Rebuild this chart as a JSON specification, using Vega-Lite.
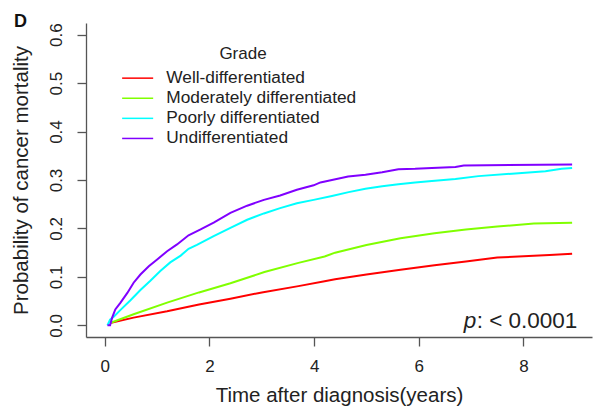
{
  "$schema": "https://vega.github.io/schema/vega-lite/v6.json",
  "width": 506,
  "height": 314,
  "autosize": "none",
  "padding": {"left": 86, "top": 23, "right": 4, "bottom": 72},
  "background": "white",
  "view": {"stroke": null},
  "config": {
    "font": "Liberation Sans",
    "axis": {"grid": false, "domainColor": "#555555", "domainWidth": 1.3, "tickColor": "#555555", "tickWidth": 1.3, "tickSize": 9, "labelFont": "Liberation Sans", "titleFont": "Liberation Sans", "labelColor": "#222222", "titleColor": "#222222", "labelFontSize": 17, "titleFontSize": 20.5, "titleFontWeight": "normal"},
    "legend": {"labelFont": "Liberation Sans", "titleFont": "Liberation Sans"}
  },
  "title": {"text": "D", "anchor": "start", "frame": "group", "dx": -72, "dy": 22, "offset": 0, "baseline": "alphabetic", "fontSize": 18, "fontWeight": "bold", "color": "#111111", "font": "Liberation Sans"},
  "datasets": {
    "curves": [
      {"grade": "Well-differentiated", "t": 0.1, "p": 0.005},
      {"grade": "Well-differentiated", "t": 0.55, "p": 0.016},
      {"grade": "Well-differentiated", "t": 1.19, "p": 0.029},
      {"grade": "Well-differentiated", "t": 1.8, "p": 0.043},
      {"grade": "Well-differentiated", "t": 2.4, "p": 0.055},
      {"grade": "Well-differentiated", "t": 3.0, "p": 0.068},
      {"grade": "Well-differentiated", "t": 3.7, "p": 0.081},
      {"grade": "Well-differentiated", "t": 4.2, "p": 0.091},
      {"grade": "Well-differentiated", "t": 4.4, "p": 0.095},
      {"grade": "Well-differentiated", "t": 5.0, "p": 0.105},
      {"grade": "Well-differentiated", "t": 5.65, "p": 0.115},
      {"grade": "Well-differentiated", "t": 6.3, "p": 0.124},
      {"grade": "Well-differentiated", "t": 6.9, "p": 0.132},
      {"grade": "Well-differentiated", "t": 7.5, "p": 0.14},
      {"grade": "Well-differentiated", "t": 8.1, "p": 0.143},
      {"grade": "Well-differentiated", "t": 8.5, "p": 0.145},
      {"grade": "Well-differentiated", "t": 8.93, "p": 0.148},
      {"grade": "Moderately differentiated", "t": 0.1, "p": 0.005},
      {"grade": "Moderately differentiated", "t": 0.55, "p": 0.023},
      {"grade": "Moderately differentiated", "t": 1.19, "p": 0.047},
      {"grade": "Moderately differentiated", "t": 1.8, "p": 0.068},
      {"grade": "Moderately differentiated", "t": 2.4, "p": 0.087},
      {"grade": "Moderately differentiated", "t": 3.05, "p": 0.11},
      {"grade": "Moderately differentiated", "t": 3.7, "p": 0.129},
      {"grade": "Moderately differentiated", "t": 4.2, "p": 0.142},
      {"grade": "Moderately differentiated", "t": 4.4, "p": 0.15},
      {"grade": "Moderately differentiated", "t": 5.0, "p": 0.166},
      {"grade": "Moderately differentiated", "t": 5.65, "p": 0.18},
      {"grade": "Moderately differentiated", "t": 6.3, "p": 0.19},
      {"grade": "Moderately differentiated", "t": 6.9, "p": 0.198},
      {"grade": "Moderately differentiated", "t": 7.5, "p": 0.204},
      {"grade": "Moderately differentiated", "t": 8.2, "p": 0.21},
      {"grade": "Moderately differentiated", "t": 8.93, "p": 0.212},
      {"grade": "Poorly differentiated", "t": 0.05, "p": 0.0},
      {"grade": "Poorly differentiated", "t": 0.1, "p": 0.012},
      {"grade": "Poorly differentiated", "t": 0.17, "p": 0.018},
      {"grade": "Poorly differentiated", "t": 0.3, "p": 0.032},
      {"grade": "Poorly differentiated", "t": 0.49, "p": 0.052},
      {"grade": "Poorly differentiated", "t": 0.68, "p": 0.073},
      {"grade": "Poorly differentiated", "t": 0.87, "p": 0.092},
      {"grade": "Poorly differentiated", "t": 1.06, "p": 0.112},
      {"grade": "Poorly differentiated", "t": 1.25, "p": 0.13},
      {"grade": "Poorly differentiated", "t": 1.45, "p": 0.144},
      {"grade": "Poorly differentiated", "t": 1.6, "p": 0.158},
      {"grade": "Poorly differentiated", "t": 1.76, "p": 0.166},
      {"grade": "Poorly differentiated", "t": 2.08, "p": 0.184},
      {"grade": "Poorly differentiated", "t": 2.4, "p": 0.201},
      {"grade": "Poorly differentiated", "t": 2.72, "p": 0.218},
      {"grade": "Poorly differentiated", "t": 3.04, "p": 0.231},
      {"grade": "Poorly differentiated", "t": 3.35, "p": 0.242},
      {"grade": "Poorly differentiated", "t": 3.67, "p": 0.252},
      {"grade": "Poorly differentiated", "t": 3.99, "p": 0.259},
      {"grade": "Poorly differentiated", "t": 4.34, "p": 0.267},
      {"grade": "Poorly differentiated", "t": 4.66, "p": 0.275},
      {"grade": "Poorly differentiated", "t": 4.98, "p": 0.282},
      {"grade": "Poorly differentiated", "t": 5.3, "p": 0.287},
      {"grade": "Poorly differentiated", "t": 5.61, "p": 0.291},
      {"grade": "Poorly differentiated", "t": 5.93, "p": 0.295},
      {"grade": "Poorly differentiated", "t": 6.25, "p": 0.298},
      {"grade": "Poorly differentiated", "t": 6.7, "p": 0.302},
      {"grade": "Poorly differentiated", "t": 7.14, "p": 0.308},
      {"grade": "Poorly differentiated", "t": 7.78, "p": 0.313},
      {"grade": "Poorly differentiated", "t": 8.42, "p": 0.318},
      {"grade": "Poorly differentiated", "t": 8.73, "p": 0.323},
      {"grade": "Poorly differentiated", "t": 8.93, "p": 0.325},
      {"grade": "Undifferentiated", "t": 0.05, "p": 0.0},
      {"grade": "Undifferentiated", "t": 0.1, "p": 0.0},
      {"grade": "Undifferentiated", "t": 0.14, "p": 0.016},
      {"grade": "Undifferentiated", "t": 0.2, "p": 0.033},
      {"grade": "Undifferentiated", "t": 0.3, "p": 0.047},
      {"grade": "Undifferentiated", "t": 0.43, "p": 0.067},
      {"grade": "Undifferentiated", "t": 0.55, "p": 0.088},
      {"grade": "Undifferentiated", "t": 0.68, "p": 0.105},
      {"grade": "Undifferentiated", "t": 0.84, "p": 0.122},
      {"grade": "Undifferentiated", "t": 1.0, "p": 0.136},
      {"grade": "Undifferentiated", "t": 1.19, "p": 0.153},
      {"grade": "Undifferentiated", "t": 1.38, "p": 0.167},
      {"grade": "Undifferentiated", "t": 1.6, "p": 0.186},
      {"grade": "Undifferentiated", "t": 1.83, "p": 0.198},
      {"grade": "Undifferentiated", "t": 2.08, "p": 0.212},
      {"grade": "Undifferentiated", "t": 2.4, "p": 0.232},
      {"grade": "Undifferentiated", "t": 2.72, "p": 0.247},
      {"grade": "Undifferentiated", "t": 3.04, "p": 0.259},
      {"grade": "Undifferentiated", "t": 3.35, "p": 0.268},
      {"grade": "Undifferentiated", "t": 3.67, "p": 0.28},
      {"grade": "Undifferentiated", "t": 3.99, "p": 0.289},
      {"grade": "Undifferentiated", "t": 4.12, "p": 0.295},
      {"grade": "Undifferentiated", "t": 4.34, "p": 0.3},
      {"grade": "Undifferentiated", "t": 4.65, "p": 0.307},
      {"grade": "Undifferentiated", "t": 4.98, "p": 0.311},
      {"grade": "Undifferentiated", "t": 5.3, "p": 0.316},
      {"grade": "Undifferentiated", "t": 5.61, "p": 0.322},
      {"grade": "Undifferentiated", "t": 5.93, "p": 0.323},
      {"grade": "Undifferentiated", "t": 6.25, "p": 0.325},
      {"grade": "Undifferentiated", "t": 6.7, "p": 0.327},
      {"grade": "Undifferentiated", "t": 6.86, "p": 0.33},
      {"grade": "Undifferentiated", "t": 8.93, "p": 0.332}
    ],
    "note": [{"t": 9.03, "p": -0.005, "label": ": < 0.0001", "pl": "p"}]
  },
  "layer": [
    {
      "data": {"name": "curves"},
      "mark": {"type": "line", "strokeWidth": 2, "interpolate": "linear"},
      "encoding": {
        "x": {"field": "t", "type": "quantitative", "scale": {"domain": [-0.36, 9.31], "nice": false, "zero": false},
              "axis": {"values": [0, 2, 4, 6, 8], "title": "Time after diagnosis(years)", "labelPadding": 12, "titlePadding": 11}},
        "y": {"field": "p", "type": "quantitative", "scale": {"domain": [-0.024, 0.624], "nice": false, "zero": false},
              "axis": {"values": [0, 0.1, 0.2, 0.3, 0.4, 0.5, 0.6], "format": ".1f", "labelAngle": -90, "labelAlign": "center", "labelBaseline": "alphabetic", "labelPadding": 16, "title": "Probability of cancer mortality", "titlePadding": 16}},
        "color": {"field": "grade", "type": "nominal",
                  "scale": {"domain": ["Well-differentiated", "Moderately differentiated", "Poorly differentiated", "Undifferentiated"], "range": ["#FF0000", "#80FF00", "#00FFFF", "#8000FF"]},
                  "legend": {"title": "Grade", "orient": "none", "legendX": 43, "legendY": 23, "padding": 0, "symbolType": "M-3,0H3", "symbolSize": 107, "symbolStrokeWidth": 1.5, "symbolFillColor": "transparent", "labelFontSize": 17.3, "labelLimit": 400, "labelColor": "#222222", "labelOffset": 20, "titleFontSize": 17, "titleFontWeight": "normal", "titleColor": "#222222", "titleAnchor": "middle", "titlePadding": 6.5, "rowPadding": 2.1}}
      }
    },
    {
      "data": {"name": "note"},
      "mark": {"type": "text", "align": "right", "baseline": "alphabetic", "fontSize": 22.5, "color": "#222222", "font": "Liberation Sans"},
      "encoding": {
        "x": {"field": "t", "type": "quantitative"},
        "y": {"field": "p", "type": "quantitative"},
        "text": {"field": "label"}
      }
    },
    {
      "data": {"name": "note"},
      "mark": {"type": "text", "align": "right", "baseline": "alphabetic", "fontSize": 22.5, "fontStyle": "italic", "color": "#222222", "font": "Liberation Sans", "dx": -101},
      "encoding": {
        "x": {"field": "t", "type": "quantitative"},
        "y": {"field": "p", "type": "quantitative"},
        "text": {"field": "pl"}
      }
    }
  ]
}
